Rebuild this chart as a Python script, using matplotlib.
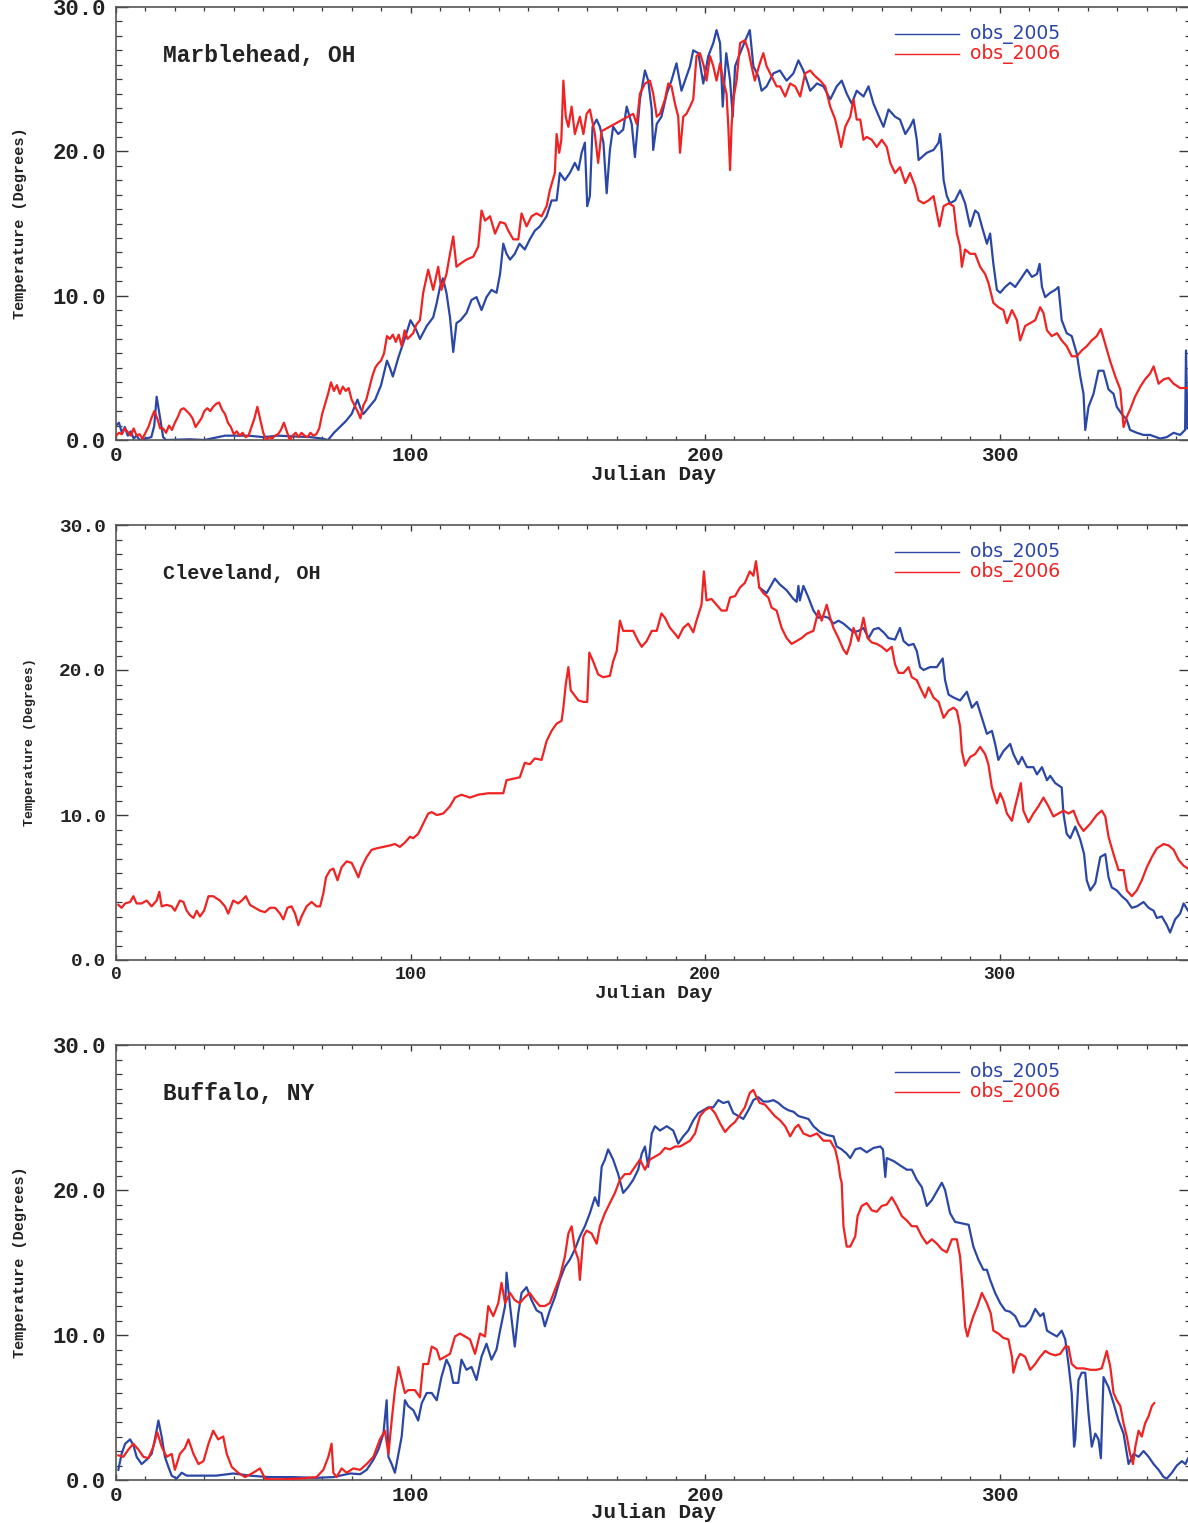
import numpy as np
import matplotlib
matplotlib.use("Agg")
import matplotlib.pyplot as plt

# ---------------- data (Julian day, temperature) ----------------
mh_2005 = [(0,1.0),(1,1.2),(2,0.5),(3,0.9),(4,0.3),(5,0.6),(6,0.1),(7,0.3),(8,0.0),(10,0.1),(12,0.2),(13,1.0),(13.8,3.0),(15,1.5),(16,0.2),(17,0.0),(25,0.05),(30,0.0),(37,0.3),(45,0.3),(50,0.2),(55,0.3),(60,0.25),(66,0.2),(70,0.1),(72,0.0),(74,0.5),(76,0.9),(78,1.3),(80,1.8),(82,2.8),(83,2.2),(84,1.8),(86,2.3),(88,2.8),(90,3.8),(92,5.5),(93,5.0),(94,4.4),(96,5.8),(98,7.0),(100,8.3),(102,7.6),(103.2,7.0),(105.5,7.9),(107.7,8.5),(108.9,9.5),(110,10.6),(111,11.2),(112.2,10.2),(113.4,8.5),(114.5,6.1),(115.6,8.1),(117,8.3),(119,8.8),(120.7,9.7),(122.4,9.9),(124.1,9.0),(125.8,9.9),(127.5,10.4),(129.2,10.2),(130.4,11.5),(131.5,13.6),(132.6,12.9),(133.8,12.5),(135.4,12.9),(137,13.6),(138.8,13.2),(140.5,13.9),(142.2,14.5),(143.9,14.8),(146.2,15.5),(147.9,16.6),(149.6,16.6),(150.7,18.5),(152.4,18.0),(154.1,18.5),(155.8,19.2),(157,18.7),(158.1,19.9),(159.2,20.6),(160,16.2),(160.9,16.9),(161.8,21.7),(163.2,22.2),(164.3,21.7),(165.5,20.6),(166.6,17.1),(167.7,20.1),(168.8,21.7),(170.5,21.2),(172.2,21.5),(173.4,23.1),(175.1,21.9),(176.2,19.6),(177.9,23.6),(179.6,25.6),(180.7,24.9),(181.9,22.9),(182.4,20.1),(183.6,21.9),(185.2,22.4),(187,24.0),(188.6,24.9),(190.3,26.1),(192,24.2),(193.7,25.2),(194.9,25.9),(196,27.0),(197.7,26.8),(199.4,24.7),(201.1,26.6),(202.8,27.5),(203.9,28.4),(205.1,27.5),(206,23.1),(207.2,26.8),(208.5,24.9),(209.4,22.4),(210.2,25.9),(211.9,26.8),(214.1,27.9),(215.2,28.4),(216.4,25.9),(218.1,25.2),(219.2,24.2),(220.9,24.5),(223.2,25.4),(225.4,25.6),(227.7,24.9),(230,25.4),(231.7,26.3),(233.4,25.6),(235.7,24.2),(238,24.7),(240.2,24.5),(242.5,23.6),(244.7,24.5),(246.4,24.9),(248.1,24.0),(249.8,23.3),(251.5,24.2),(253.8,23.8),(255.5,24.5),(257.2,23.3),(259.5,22.2),(260.6,21.7),(262.3,22.9),(264.5,22.4),(266.2,22.2),(268,21.2),(269.6,21.7),(270.8,22.2),(271.9,20.8),(272.5,19.4),(273.6,19.6),(275.3,19.9),(277.6,20.1),(279.3,20.6),(279.8,21.2),(280.4,19.9),(281,18.0),(282.1,16.9),(283.2,16.4),(284.9,16.6),(286.6,17.3),(288.3,16.4),(290,14.8),(291.7,15.9),(292.8,15.7),(294,14.8),(295.7,13.6),(296.8,14.3),(297.9,12.2),(299.1,10.4),(300.2,10.2),(301.9,10.6),(303.6,10.9),(305.3,10.6),(307,11.1),(309.3,11.8),(311,11.3),(312.7,11.5),(313.6,12.2),(314.4,10.6),(315.5,9.9),(317.2,10.2),(318.9,10.4),(320,10.6),(321.1,8.3),(322.8,7.4),(324.5,7.2),(326.2,6.0),(327.4,4.4),(328.5,3.2),(329.1,0.7),(330.2,2.3),(331.9,3.2),(333.6,4.8),(335.3,4.8),(337,3.5),(338.7,3.2),(339.8,2.3),(341.5,1.8),(343.2,1.4),(344.3,0.7),(346.6,0.5),(348.9,0.35),(351.1,0.35),(354.5,0.1),(356.8,0.2),(359.1,0.5),(361.3,0.35),(363,0.7),(363.3,6.2),(363.8,0.8)]

mh_2006 = [(0,0.3),(1,0.5),(2,0.4),(3,0.8),(5,0.3),(6,0.8),(7,0.3),(8,0.4),(9,0.1),(10,0.5),(11,0.9),(12,1.5),(13,2.0),(14,1.5),(15,0.8),(16,0.8),(17,0.5),(18,1.0),(19,0.7),(20,1.2),(21,1.6),(22,2.1),(23,2.2),(24,2.0),(25,1.8),(26,1.5),(27,0.9),(28,1.2),(29,1.5),(30,2.0),(31,2.2),(32,2.0),(33,2.3),(34,2.5),(35,2.6),(36,2.1),(37,1.8),(38,1.2),(39,0.9),(40,0.4),(41,0.6),(42,0.3),(43,0.5),(44,0.2),(45,0.3),(46,0.9),(47,1.5),(48,2.3),(49,1.4),(50,0.5),(51,0.0),(52,0.2),(53,0.1),(54,0.3),(55,0.4),(56,0.7),(57,1.2),(58,0.6),(59,0.0),(60,0.3),(61,0.5),(62,0.2),(63,0.5),(64,0.3),(65,0.2),(66,0.5),(67,0.3),(68,0.4),(69,0.8),(70,1.8),(71,2.5),(72,3.2),(73,4.0),(74,3.4),(75,3.8),(76,3.2),(77,3.7),(78,3.4),(79,3.6),(80,2.8),(81,2.4),(82,2.0),(83,1.5),(84,2.4),(85,2.8),(86,3.6),(87,4.4),(88,5.0),(89,5.3),(90,5.5),(91,6.0),(92,7.2),(93,7.0),(94,7.3),(95,6.8),(96,7.3),(97,6.5),(98,7.6),(99,7.0),(100.9,7.4),(102,8.0),(103.2,8.3),(104.3,10.2),(106,11.8),(107.7,10.4),(109.4,12.0),(110.5,10.4),(112.2,11.5),(113.4,12.9),(114.5,14.1),(115.6,12.0),(116.8,12.2),(119,12.5),(121.3,12.7),(123,13.4),(124.1,15.9),(125.3,15.2),(127,15.5),(128.7,14.3),(130.4,15.1),(132.1,15.0),(133.2,14.5),(134.9,13.9),(136.6,13.9),(137.7,15.7),(139.4,14.8),(141.1,15.5),(142.8,15.7),(144.5,15.5),(146.2,16.2),(147.3,17.3),(149,18.5),(149.6,21.2),(150.5,19.9),(151.2,20.8),(151.9,24.9),(152.7,22.4),(153.6,21.7),(154.7,23.1),(155.8,21.2),(157.5,22.4),(158.7,21.2),(159.8,22.6),(160.9,22.9),(162.6,21.2),(163.7,19.2),(164.9,21.4),(175.6,22.6),(176.8,21.9),(177.9,24.0),(179.6,24.7),(181.3,24.9),(182.4,24.0),(183.6,22.4),(184.7,22.6),(186.4,23.6),(187.5,24.7),(188.6,24.5),(189.8,23.3),(190.9,22.4),(191.5,19.9),(192.6,22.4),(193.7,22.6),(194.9,23.1),(196,23.6),(197.1,26.6),(198.3,26.8),(199.6,25.9),(200.5,24.9),(201.7,26.6),(202.8,25.9),(203.9,24.9),(205.1,26.1),(206.2,24.9),(207.3,24.0),(207.9,21.7),(208.5,18.7),(209,21.7),(209.6,23.6),(210.7,24.9),(211.9,27.5),(213.5,27.7),(214.7,27.0),(215.8,25.9),(216.9,24.9),(218.6,26.1),(219.8,26.8),(220.9,25.9),(222.6,25.2),(224.3,24.5),(225.5,24.5),(227.2,23.8),(228.9,24.7),(230.6,24.5),(232.3,23.8),(234,25.4),(235.7,25.6),(237.4,25.2),(239.1,24.9),(240.8,24.5),(242.5,23.1),(244.2,22.2),(245.3,21.2),(246.2,20.3),(247.6,21.7),(249.3,22.4),(250.4,23.6),(251.5,22.2),(252.7,22.2),(253.8,20.8),(254.9,21.0),(256.6,20.8),(258.3,20.3),(260,20.8),(261.7,20.3),(262.9,19.2),(264.5,18.5),(266.2,18.9),(268,17.8),(269.6,18.5),(271.3,17.6),(272.5,16.6),(274.2,16.4),(275.9,16.6),(277.6,16.9),(278.7,15.7),(279.6,14.8),(281,16.2),(282.7,16.4),(284.4,16.2),(285.5,14.3),(286.6,13.4),(287.2,12.0),(288.3,13.2),(290,12.9),(291.7,12.9),(293.4,12.0),(295.1,11.5),(296.2,10.9),(297.9,9.5),(299.6,9.2),(301.3,9.0),(302.5,8.1),(304.2,9.0),(305.9,8.3),(307,6.9),(308.7,7.9),(310.4,8.1),(312.1,8.3),(313.8,9.2),(314.9,8.8),(316.1,7.6),(317.7,7.2),(319.5,7.4),(321.1,6.9),(322.8,6.5),(324.5,5.8),(326.2,5.8),(327.9,6.2),(329.6,6.5),(331.3,6.9),(333,7.2),(334.4,7.7),(335.8,6.7),(337.5,5.5),(339.3,4.4),(341,3.5),(342.1,0.9),(343.2,1.6),(344.3,2.1),(346,3.0),(347.8,3.7),(349.4,4.2),(351.1,4.6),(352.3,5.1),(354,3.9),(355.7,4.2),(357.4,4.3),(359.1,3.9),(361.3,3.6),(364,3.6)]

cl_2005 = [(218.4,25.7),(220.9,25.3),(222.6,25.9),(223.7,26.3),(225.4,25.9),(227.7,25.5),(230,24.9),(231.1,24.7),(231.7,25.8),(232.2,24.8),(233.4,25.8),(235.1,25.0),(236.8,24.1),(238.5,23.6),(240.2,23.7),(241.9,23.6),(243.6,23.2),(245.3,23.4),(247,23.2),(248.7,22.9),(250.4,22.6),(252.1,22.7),(253.8,22.9),(255.5,22.2),(257.2,22.8),(258.9,22.9),(260.6,22.6),(262.3,22.2),(264.5,22.1),(266.2,22.9),(267.4,22.0),(269.1,21.7),(270.8,21.8),(271.9,21.3),(273,20.2),(274.2,20.0),(276.4,20.2),(278.7,20.2),(280.7,20.8),(281.5,19.3),(282.7,18.3),(284.4,18.1),(286.6,17.9),(288.9,18.5),(290.6,17.4),(292.3,17.8),(294,16.7),(295.7,15.6),(297.4,15.8),(298.5,14.9),(299.6,13.8),(301.3,14.4),(303.6,14.9),(304.7,14.2),(306.4,13.5),(307.6,14.0),(309.3,13.3),(311.5,13.3),(312.7,12.8),(314.4,13.3),(316.1,12.4),(317.2,12.7),(318.9,12.2),(321.1,11.9),(321.7,10.1),(322.8,8.7),(324,8.4),(325.7,9.2),(327.4,8.3),(328.7,7.3),(329.6,5.5),(330.8,4.8),(332.5,5.3),(334.2,7.1),(335.9,7.3),(337,5.7),(338.1,5.0),(339.8,4.8),(341.5,4.4),(343.2,4.1),(344.9,3.6),(346.6,3.7),(348.9,4.0),(350.6,3.6),(352.3,3.4),(353.4,2.9),(355.1,3.0),(356.8,2.4),(357.9,1.9),(359.6,2.8),(361.3,3.2),(362.5,3.9),(364,3.4)]

cl_2006 = [(0.8,3.8),(1.9,3.6),(3.1,3.9),(4.8,4.0),(5.9,4.4),(7,3.9),(8.7,3.9),(10.4,4.1),(12.1,3.7),(13.8,4.1),(14.7,4.7),(15.5,3.7),(17.2,3.8),(18.9,3.7),(20,3.4),(21.7,4.1),(22.9,4.0),(24,3.4),(25.1,3.1),(26.3,2.9),(27.4,3.4),(28.5,3.0),(29.9,3.4),(31.4,4.4),(33,4.4),(35.3,4.1),(37,3.7),(38.1,3.2),(39.8,4.1),(41.5,3.9),(42.7,4.1),(44.1,4.4),(45.5,3.8),(47.2,3.6),(48.9,3.4),(50.6,3.3),(52.3,3.6),(54,3.6),(55.7,3.2),(56.8,2.8),(58.2,3.6),(59.6,3.7),(60.8,3.2),(61.9,2.4),(63,3.0),(64.7,3.7),(66.4,4.0),(68.1,3.7),(69.3,3.7),(70.4,4.6),(71.3,5.7),(72.7,6.2),(73.8,6.3),(75.2,5.5),(76.6,6.4),(78.3,6.8),(80,6.7),(81.2,6.2),(82.3,5.7),(83.4,6.4),(85.1,7.1),(86.8,7.6),(88.5,7.7),(90.8,7.8),(93,7.9),(94.7,8.0),(96.4,7.8),(98.1,8.1),(99.8,8.5),(100.9,8.4),(102.6,8.7),(104.3,9.4),(106,10.1),(107.2,10.2),(108.9,10.0),(111.1,10.1),(113.4,10.6),(115.1,11.2),(117.3,11.4),(120.2,11.2),(123,11.4),(126.4,11.5),(129.2,11.5),(131.5,11.5),(132.6,12.4),(134.9,12.5),(137.1,12.6),(138.8,13.6),(140.5,13.5),(142.2,13.9),(144.5,13.8),(146.2,15.1),(147.9,15.8),(149.6,16.3),(151.3,16.5),(151.9,17.4),(152.7,19.0),(153.6,20.2),(154.4,18.6),(155.5,18.3),(157,17.9),(158.7,17.8),(160,17.8),(160.7,21.2),(162,20.6),(163.7,19.7),(165.4,19.5),(167.7,19.6),(168.8,20.6),(170,21.3),(171.1,23.4),(172.2,22.7),(173.9,22.7),(175.6,22.7),(177.3,22.0),(178.5,21.6),(180.2,22.0),(181.9,22.7),(183.6,22.7),(185.2,23.9),(186.4,23.6),(188.1,22.9),(189.8,22.5),(190.9,22.2),(192.6,22.9),(194.3,23.2),(196,22.6),(197.1,23.4),(198.8,24.5),(199.6,26.8),(200.5,24.8),(202.2,24.9),(203.9,24.5),(205.6,24.1),(207.3,24.1),(208.5,25.0),(210.2,25.1),(211.9,25.7),(213.5,26.0),(215.2,26.8),(216.4,26.5),(217.3,27.5),(218.4,25.7),(219.8,25.3),(221.5,25.0),(222.6,24.3),(224.3,24.1),(226,22.9),(227.7,22.2),(229.4,21.8),(231.1,22.0),(232.8,22.2),(234.5,22.5),(236.8,22.7),(238.5,24.1),(239.6,23.4),(241.3,24.5),(242.5,23.6),(243.6,22.9),(245.3,22.2),(247,21.4),(248.1,21.1),(249.3,21.8),(250.4,22.9),(252.1,22.0),(253.8,23.6),(255.2,22.2),(256.6,21.9),(258.3,21.8),(260,21.6),(261.7,21.3),(263.4,21.6),(264.5,20.4),(265.7,19.8),(267.4,19.8),(269.1,20.2),(270.2,19.5),(271.9,19.3),(273,18.8),(274.7,18.1),(275.9,18.8),(277.6,18.1),(279.3,17.8),(281,16.7),(282.7,17.2),(284.4,17.4),(285.5,17.2),(286.6,16.1),(287.2,14.4),(288.3,13.4),(290,14.0),(291.7,14.2),(293.4,14.7),(295.1,14.2),(296.2,13.5),(297.4,11.9),(299.1,10.8),(300.2,11.5),(301.3,11.0),(302.5,10.1),(304.2,9.6),(305.3,10.6),(306.4,11.5),(307.2,12.2),(308.1,10.3),(309.8,9.5),(311.5,10.1),(313.2,10.6),(314.9,11.2),(316.6,10.6),(318.3,9.9),(320,10.1),(321.7,10.3),(323.4,10.1),(325.1,10.3),(326.8,9.4),(328.5,8.9),(330.8,9.4),(333,10.0),(334.7,10.3),(335.9,9.9),(337,8.5),(338.7,7.3),(340.4,6.2),(342.1,6.2),(343.2,4.8),(344.9,4.4),(346.6,4.8),(348.3,5.5),(350,6.4),(351.7,7.1),(353.4,7.7),(355.7,8.0),(357.4,7.9),(359.1,7.6),(360.8,6.9),(362.5,6.5),(364,6.3)]

bf_2005 = [(0.8,0.7),(1.9,1.8),(3.1,2.5),(4.8,2.8),(5.9,2.4),(7,1.6),(8.7,1.1),(10.4,1.4),(12.1,1.8),(13.2,2.8),(14.4,4.1),(15.5,3.0),(16.6,1.6),(17.8,0.9),(18.9,0.3),(20.6,0.1),(22.3,0.5),(24,0.3),(28,0.3),(34,0.3),(39.8,0.45),(45.5,0.3),(52,0.2),(60,0.2),(68,0.15),(73.8,0.2),(79.5,0.45),(82.9,0.4),(85.1,0.7),(87.4,1.4),(89.1,2.1),(90.8,3.2),(91.9,5.5),(92.5,1.6),(93.6,1.1),(94.7,0.5),(95.9,1.8),(97,3.0),(98.1,5.5),(99.2,5.1),(101,4.8),(102.6,4.1),(103.8,5.3),(105.5,6.0),(107.2,6.0),(108.9,5.5),(110.5,7.1),(112.2,8.3),(113.4,7.8),(114.5,6.7),(116.2,6.7),(117.3,8.3),(119,7.6),(120.7,7.8),(122.4,6.9),(124.1,8.5),(125.8,9.4),(127.5,8.3),(129.2,9.0),(130.4,10.3),(132.1,12.0),(132.6,14.3),(133.8,12.0),(135.4,9.2),(136.6,11.5),(137.7,12.9),(139.4,13.3),(141.1,12.4),(142.8,11.7),(144.5,11.5),(145.6,10.6),(147.3,11.7),(149,12.6),(150.7,13.8),(152.4,14.7),(154.1,15.2),(155.8,15.9),(157.5,16.8),(159.2,17.5),(160.9,18.4),(162.6,19.5),(163.8,18.9),(164.9,21.6),(166,22.1),(167.1,22.8),(168.8,22.1),(170.5,21.1),(172.2,19.8),(173.9,20.2),(175.6,20.7),(177.3,21.4),(178.5,22.5),(179.6,23.0),(180.7,21.6),(181.9,23.9),(183,24.4),(184.7,24.1),(187,24.4),(189.2,24.1),(190.9,23.2),(192.6,23.7),(194.3,24.1),(196,24.8),(197.7,25.3),(199.4,25.5),(201.1,25.7),(202.8,25.7),(204.5,26.2),(206.2,26.0),(207.9,26.1),(209.6,25.3),(211.3,25.1),(213,24.9),(214.7,25.5),(216.4,26.2),(218.1,26.4),(219.8,26.1),(221.5,26.1),(223.2,26.2),(224.9,26.0),(226.6,25.7),(228.3,25.5),(230,25.4),(231.7,25.1),(233.4,25.0),(235.1,24.9),(236.8,24.4),(239,24.0),(241.3,23.8),(243.6,23.7),(244.7,23.0),(246.4,22.8),(248.1,22.5),(249.3,22.2),(251,22.8),(252.7,22.9),(254.9,22.6),(257.2,22.9),(259.5,23.0),(260.4,22.8),(261.2,20.9),(261.7,22.2),(264,22.0),(266.2,21.7),(268.5,21.4),(270.2,21.4),(271.9,20.7),(273.6,20.2),(275.3,18.9),(277,19.3),(278.7,19.9),(280.4,20.5),(281.5,20.0),(283.2,18.4),(284.9,17.8),(287.2,17.7),(289.5,17.6),(291.1,16.1),(292.8,15.2),(294.5,14.5),(295.7,14.5),(296.8,13.8),(298.5,12.9),(300.2,12.2),(301.9,11.7),(303.6,11.6),(305.3,11.3),(307,10.6),(308.7,10.6),(310.4,11.0),(312.1,11.8),(313.8,11.3),(314.9,11.5),(316.1,10.3),(317.7,10.1),(319.5,9.9),(321.1,10.3),(322.3,9.7),(323.4,8.0),(324.5,6.0),(325.3,2.3),(325.7,2.8),(326.8,6.9),(327.9,7.4),(329.1,7.4),(330.2,4.6),(331.3,2.3),(332.5,3.2),(333.6,2.8),(334.4,1.5),(335.3,7.1),(337,6.4),(338.7,5.3),(340.4,4.1),(342.1,3.2),(343.8,1.1),(345.5,1.8),(347.2,1.6),(348.9,2.0),(350.6,1.6),(352.3,1.1),(354,0.7),(355.7,0.2),(356.8,0.1),(358.5,0.5),(360.2,1.0),(361.9,1.3),(363.1,1.1),(364,1.5)]

bf_2006 = [(0.8,1.7),(2.5,1.6),(4.2,2.1),(5.9,2.5),(7.6,2.1),(9.3,1.6),(11,1.5),(12.7,2.3),(14,3.3),(15.5,2.3),(17.2,1.6),(18.9,1.8),(20,0.7),(21.7,1.8),(23.4,2.2),(24.6,2.8),(26.3,1.8),(28,1.1),(29.7,1.3),(31.4,2.5),(33,3.4),(34.7,2.8),(36.4,3.0),(37.6,1.8),(39.3,0.9),(41.5,0.5),(43.8,0.2),(46.6,0.5),(48.9,0.8),(50.6,0.1),(52.3,0.05),(56,0.05),(62.5,0.1),(68.1,0.2),(70.4,0.7),(72.1,1.6),(73.2,2.5),(73.8,0.5),(74.9,0.2),(76.6,0.8),(78.3,0.5),(80.6,0.8),(82.9,0.7),(85.1,1.1),(87.4,1.6),(89.6,2.8),(91.3,3.4),(92.5,1.8),(93.6,4.1),(94.7,6.2),(95.9,7.8),(97,6.9),(98.1,6.0),(99.2,6.2),(101.5,6.2),(103.2,5.7),(104.3,8.0),(106,8.0),(107.2,9.2),(108.9,9.0),(110,8.3),(111.7,8.5),(113.4,8.7),(115.1,9.9),(116.8,10.1),(118.5,9.9),(120.2,9.7),(121.9,8.7),(123.6,10.1),(125.3,9.9),(126.4,12.0),(128.1,11.3),(129.8,12.2),(130.9,13.6),(132.1,12.2),(133.8,12.9),(135.4,12.4),(137.1,12.2),(138.8,12.6),(140.5,12.9),(142.2,12.4),(143.9,12.0),(145.6,12.0),(147.3,12.2),(149,13.1),(150.7,14.0),(152.4,15.4),(153.6,17.0),(154.7,17.5),(155.8,15.9),(157,15.2),(157.5,13.8),(158.7,16.8),(159.8,17.2),(161.5,17.0),(163.2,16.3),(164.3,17.5),(166,18.4),(167.7,19.1),(169.4,19.8),(171.1,20.7),(172.8,21.1),(174.5,21.1),(176.2,21.6),(177.9,22.1),(179.6,21.4),(181.3,22.1),(183,22.3),(184.7,22.5),(186.4,22.9),(188.1,22.8),(189.8,23.0),(191.5,23.0),(193.2,23.2),(194.9,23.4),(196.6,23.9),(198.3,25.1),(200,25.5),(201.7,25.7),(203.4,25.3),(205.1,24.6),(206.8,24.0),(208.5,24.4),(210.2,24.7),(211.9,25.2),(213.5,25.7),(215.2,26.7),(216.4,26.9),(217.5,26.4),(218.6,26.0),(220.3,25.9),(222,25.5),(223.7,25.1),(225.5,24.8),(227.2,24.4),(228.9,23.7),(230.6,24.3),(231.7,24.5),(233.4,23.9),(235.7,23.7),(238,23.9),(240.2,23.4),(242.5,23.4),(244.2,22.8),(245.3,21.8),(245.9,20.9),(246.4,20.5),(247,17.5),(248.1,16.1),(249.3,16.1),(251,16.8),(251.8,18.2),(253.2,18.9),(254.9,19.1),(256.6,18.6),(258.3,18.5),(260,18.9),(261.7,19.0),(263.4,19.5),(265.1,18.9),(266.8,18.2),(268.5,17.9),(270.2,17.5),(271.9,17.5),(273.6,16.8),(275.3,16.3),(277,16.6),(278.7,16.3),(280.4,15.9),(282.1,15.7),(283.8,16.6),(285.5,16.6),(286.6,15.4),(287.5,13.1),(288.3,10.6),(289.1,9.9),(290,10.6),(291.1,11.3),(292.5,12.0),(294,12.9),(295.7,12.2),(297,11.5),(297.9,10.3),(299.6,10.1),(301.3,9.8),(303,9.7),(304.2,8.5),(304.7,7.4),(305.9,8.3),(307,8.7),(308.7,8.5),(310.4,7.6),(312.1,8.0),(313.8,8.5),(315.5,8.9),(317.2,8.7),(318.9,8.6),(320.6,8.7),(322.3,9.2),(323.4,9.2),(324.5,8.0),(326.2,7.7),(328.5,7.7),(330.8,7.6),(333,7.6),(334.7,7.7),(336.4,8.9),(337.6,7.8),(338.7,6.0),(339.8,5.5),(341,5.1),(342.1,3.9),(343.2,3.0),(344.3,1.8),(345.3,1.1),(346.1,2.3),(347.2,3.4),(348.3,3.0),(349.4,3.9),(350.6,4.4),(351.7,5.1),(352.5,5.3)]

stations = ["Marblehead, OH", "Cleveland, OH", "Buffalo, NY"]
series_labels = ["obs_2005", "obs_2006"]
x_ticks = [0, 100, 200, 300]
y_ticks = [0.0, 10.0, 20.0, 30.0]
x_label = "Julian Day"
y_label = "Temperature (Degrees)"

panel_data = [(mh_2005, mh_2006), (cl_2005, cl_2006), (bf_2005, bf_2006)]

# ---------------- style ----------------
BLUE = "#2b47a6"
RED = "#f02222"
AXC = "#3a3a3a"
TXT = "#222222"
MONO = "Liberation Mono"

W, H = 1188, 1523
fig = plt.figure(figsize=(W / 100, H / 100), dpi=100)

# (top px, bottom px, ytick fs, xtick fs, title fs, xlabel fs, ylabel fs, ylabel centre x px, xlabel centre y px)
layout = [
    (7, 440, 16, 15, 16.5, 15, 11, 20, 474),
    (525, 960, 14, 13, 14.5, 14, 9.5, 30, 993),
    (1045, 1480, 16, 15, 16.5, 15, 11, 20, 1513),
]
left_px, right_px = 116, 1191

for (d05, d06), name, (top, bot, yfs_t, xfs_t, hfs, xfs, yfs, ylx, xly) in zip(panel_data, stations, layout):
    ax = fig.add_axes([left_px / W, 1 - bot / H, (right_px - left_px) / W, (bot - top) / H])
    a = np.array(d05)
    b = np.array(d06)
    ax.plot(a[:, 0], a[:, 1], color=BLUE, lw=1.6, zorder=2)
    ax.plot(b[:, 0], b[:, 1], color=RED, lw=1.6, zorder=3)

    ax.set_xlim(0, 365)
    ax.set_ylim(0, 30)
    ax.set_xticks(x_ticks)
    ax.set_xticks(np.arange(0, 366, 10), minor=True)
    ax.set_yticks(y_ticks)
    ax.set_yticks(np.arange(0, 31, 1), minor=True)
    ax.set_xticklabels([str(t) for t in x_ticks], fontfamily=MONO, fontweight="bold",
                       fontsize=xfs_t, color=TXT)
    ax.set_yticklabels(["%.1f" % t for t in y_ticks], fontfamily=MONO, fontweight="bold",
                       fontsize=yfs_t, color=TXT)
    ax.tick_params(axis="y", which="major", direction="in", length=8.5, width=1.0,
                   color=AXC, left=True, right=True, pad=7)
    ax.tick_params(axis="y", which="minor", direction="in", length=4.5, width=0.9,
                   color=AXC, left=True, right=True)
    ax.tick_params(axis="x", which="major", direction="in", length=4.5, width=1.0,
                   color=AXC, bottom=True, top=True, pad=4.5)
    ax.tick_params(axis="x", which="minor", direction="in", length=2.8, width=0.9,
                   color=AXC, bottom=True, top=True)
    for s in ax.spines.values():
        s.set_color("#555555")
        s.set_linewidth(1.2)

    h_px = bot - top
    ax.set_xlabel(x_label, fontfamily=MONO, fontweight="bold", fontsize=xfs, color=TXT,
                  va="center")
    ax.xaxis.set_label_coords(0.5, -(xly - bot) / h_px)
    ax.set_ylabel(y_label, fontfamily=MONO, fontweight="bold", fontsize=yfs, color=TXT,
                  va="center")
    ax.yaxis.set_label_coords((ylx - left_px) / (right_px - left_px), 0.5)

    ax.text(0.044, 0.889, name, transform=ax.transAxes, fontfamily=MONO,
            fontweight="bold", fontsize=hfs, color=TXT, va="center", ha="left")

    # legend (drawn manually to match placement)
    for ly, lab, col in [(0.938, series_labels[0], BLUE), (0.891, series_labels[1], RED)]:
        ax.plot([0.725, 0.784], [ly, ly], transform=ax.transAxes, color=col, lw=1.0,
                clip_on=False)
        ax.text(0.794, ly, lab, transform=ax.transAxes, color=col, fontsize=13.5,
                fontfamily="DejaVu Sans", va="center", ha="left")

fig.savefig("out.png", dpi=100)
